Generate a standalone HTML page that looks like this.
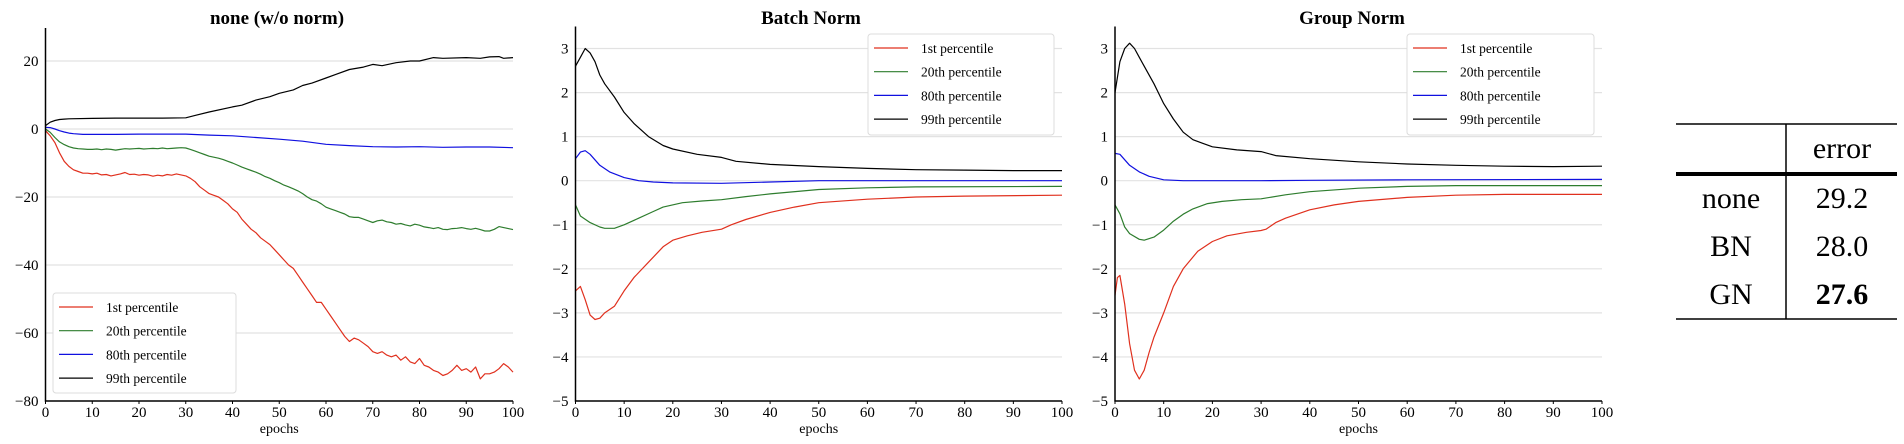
<!DOCTYPE html>
<html><head><meta charset="utf-8"><style>
html,body{margin:0;padding:0;background:#fff;width:1904px;height:444px;overflow:hidden}
svg{position:absolute;left:0;top:0}
text{font-family:"Liberation Serif",serif}
</style></head><body>
<svg id="s" width="1904" height="444"></svg>
<script>
// ---- Data: none (w/o norm) ----
const noneRedX=[0,1,2,3,4,5,6,7,8,9,10,11,12,13,14,15,16,17,18,19,20,21,22,23,24,25,26,27,28,29,30,31,32,33,34,35,36,37,38,39,40,41,42,43,44,45,46,47,48,49,50,51,52,53,54,55,56,57,58,59,60,61,62,63,64,65,66,67,68,69,70,71,72,73,74,75,76,77,78,79,80,81,82,83,84,85,86,87,88,89,90,91,92,93,94,95,96,97,98,99,100];
const noneRed=[-0.5,-2,-4,-7,-9.5,-11,-12,-12.5,-13,-13,-13.2,-13,-13.5,-13.4,-13.8,-13.5,-13.2,-12.8,-13.4,-13.3,-13.6,-13.4,-13.5,-13.9,-13.6,-13.8,-13.4,-13.6,-13.2,-13.5,-13.8,-14.5,-15.5,-17,-18,-19,-19.5,-20,-21,-22,-23.5,-24.5,-26.5,-28,-29.5,-30.5,-32,-33,-34,-35.5,-37,-38.5,-40,-41,-43,-45,-47,-49,-51,-51,-53,-55,-57,-59,-61,-62.5,-61.5,-62,-63,-64,-65.5,-66,-65.5,-66.5,-67,-66.5,-68,-67,-68.5,-69,-67.5,-69.5,-70,-71,-71.5,-72.5,-72,-71,-69.5,-71,-70.5,-71.5,-70,-73.5,-72,-72,-71.5,-70.5,-69,-70,-71.5];
const noneGreenX=noneRedX;
const noneGreen=[0,-1,-2.5,-3.8,-4.6,-5.2,-5.6,-5.8,-5.9,-6,-6,-5.9,-6.1,-5.9,-6,-6.2,-6,-5.8,-5.9,-5.8,-5.7,-5.9,-5.8,-5.7,-5.8,-5.6,-5.8,-5.7,-5.6,-5.5,-5.6,-6,-6.5,-7,-7.5,-8,-8.3,-8.6,-9,-9.5,-10,-10.6,-11.2,-11.7,-12.2,-12.7,-13.3,-14,-14.5,-15.2,-15.8,-16.5,-17,-17.6,-18.2,-19,-20,-20.8,-21.2,-22,-23,-23.5,-24,-24.5,-25,-25.8,-26,-26,-26.5,-27,-27.5,-27,-26.8,-27.3,-27.5,-28,-27.8,-28.2,-28.5,-28,-28.3,-28.8,-29,-29.3,-29,-29.5,-29.6,-29.3,-29.2,-29,-29.3,-29.5,-29.2,-29.6,-30,-30,-29.5,-28.7,-29,-29.3,-29.6];
const noneBlueX=[0,1,2,3,4,5,6,8,10,15,20,25,30,35,40,45,50,55,60,65,70,75,80,85,90,95,100];
const noneBlue=[0.5,0.4,0,-0.5,-0.9,-1.2,-1.4,-1.6,-1.6,-1.6,-1.5,-1.5,-1.5,-1.8,-2,-2.5,-3,-3.6,-4.5,-4.9,-5.2,-5.3,-5.2,-5.4,-5.3,-5.3,-5.5];
const noneBlackX=[0,1,2,3,4,5,10,15,20,25,30,32,35,40,42,45,48,50,53,55,57,60,62,65,68,70,72,75,78,80,83,85,90,93,95,97,98,100];
const noneBlack=[1,2,2.5,2.8,2.9,3,3.1,3.2,3.2,3.2,3.3,4,5,6.5,7,8.5,9.5,10.5,11.5,12.8,13.5,15,16,17.5,18.2,19,18.6,19.5,20,20,21,20.8,21,20.8,21.2,21.3,20.8,21];
const noneYTicks=[20,0,-20,-40,-60,-80];
// ---- Data: Batch Norm ----
const bnBlackX=[0,1,2,3,4,5,6,8,10,12,15,18,20,25,30,33,40,50,60,70,80,90,100];
const bnBlack=[2.6,2.8,3.0,2.9,2.7,2.4,2.2,1.9,1.55,1.3,1.0,0.8,0.72,0.6,0.53,0.44,0.37,0.32,0.28,0.25,0.24,0.23,0.23];
const bnBlueX=[0,1,2,3,5,7,10,13,16,20,30,40,50,100];
const bnBlue=[0.5,0.65,0.68,0.6,0.35,0.2,0.07,0,-0.03,-0.05,-0.06,-0.03,0,0];
const bnGreenX=[0,1,3,5,6,8,10,13,16,18,22,26,30,35,40,50,60,70,100];
const bnGreen=[-0.55,-0.8,-0.95,-1.05,-1.08,-1.08,-1.0,-0.85,-0.7,-0.6,-0.5,-0.46,-0.43,-0.36,-0.3,-0.2,-0.16,-0.14,-0.13];
const bnRedX=[0,1,2,3,4,5,6,8,10,12,15,18,20,23,26,30,32,35,40,45,50,60,70,80,100];
const bnRed=[-2.5,-2.4,-2.7,-3.05,-3.15,-3.12,-3.0,-2.85,-2.5,-2.2,-1.85,-1.5,-1.35,-1.25,-1.17,-1.1,-1.0,-0.88,-0.72,-0.6,-0.5,-0.42,-0.37,-0.35,-0.33];
// ---- Data: Group Norm ----
const gnBlackX=[0,1,2,3,4,5,6,8,10,12,14,16,18,20,25,30,33,40,50,60,70,80,90,100];
const gnBlack=[2.0,2.7,3.0,3.12,3.0,2.8,2.6,2.2,1.75,1.4,1.1,0.93,0.85,0.77,0.7,0.66,0.57,0.5,0.43,0.38,0.35,0.33,0.32,0.33];
const gnBlueX=[0,1,3,5,7,10,14,30,40,60,100];
const gnBlue=[0.62,0.6,0.35,0.2,0.1,0.02,0,0,0.01,0.02,0.03];
const gnGreenX=[0,1,2,3,5,6,8,10,12,14,16,19,22,26,30,35,40,50,60,70,100];
const gnGreen=[-0.55,-0.75,-1.05,-1.2,-1.33,-1.35,-1.28,-1.12,-0.92,-0.76,-0.64,-0.52,-0.47,-0.43,-0.41,-0.32,-0.25,-0.17,-0.13,-0.11,-0.11];
const gnRedX=[0,0.5,1,2,3,4,5,6,7,8,10,12,14,17,20,23,27,30,31,33,35,40,45,50,60,70,80,100];
const gnRed=[-2.6,-2.2,-2.15,-2.8,-3.7,-4.3,-4.5,-4.3,-3.9,-3.55,-3.0,-2.4,-2.0,-1.6,-1.38,-1.25,-1.17,-1.13,-1.1,-0.95,-0.85,-0.66,-0.55,-0.47,-0.38,-0.33,-0.31,-0.31];
const normYTicks=[3,2,1,0,-1,-2,-3,-4,-5];
const xTicks=[0,10,20,30,40,50,60,70,80,90,100];
const legendLabels=["1st percentile","20th percentile","80th percentile","99th percentile"];
const seriesColors=["#e0301e","#2e7d2e","#1010e0","#000000"];

const NS="http://www.w3.org/2000/svg";
const svg=document.getElementById('s');
function mk(tag,attrs,parent){const e=document.createElementNS(NS,tag);for(const k in attrs)e.setAttribute(k,attrs[k]);(parent||svg).appendChild(e);return e;}

function chart(o){
  const g=mk('g',{});
  
  
  const sx=v=>o.x0+(v-0)/100*(o.x1-o.x0);
  const sy=v=>o.yb+(v-o.ymin)/(o.ymax-o.ymin)*(o.yt-o.yb);
  o.yticks.forEach(t=>{
    if(t!==o.ymin){const l=mk('line',{x1:o.x0,x2:o.x1,y1:sy(t),y2:sy(t),stroke:'#e2e2e2','stroke-width':1.2},g);
    
    }
    const tx=mk('text',{x:o.x0-7,y:sy(t)+5,'text-anchor':'end','font-size':15},g);
    
    
    tx.textContent=(t<0?'\u2212'+(-t):t);
  });
  xTicks.forEach(t=>{
    mk('line',{x1:sx(t),x2:sx(t),y1:o.yb,y2:o.yb+3,stroke:'#000'},g);
    const tx=mk('text',{x:sx(t),y:o.yb+16,'text-anchor':'middle','font-size':15},g);
    
    
    tx.textContent=t;
  });
  o.series.forEach((s,i)=>{
    const pts=s[0].map((x,j)=>sx(x).toFixed(1)+','+sy(s[1][j]).toFixed(1)).join(' ');
    const p=mk('polyline',{points:pts,fill:'none',stroke:seriesColors[i],'stroke-width':1.2,'stroke-linejoin':'round'},g);
    
    
  });
  const ax=mk('path',{d:`M${o.x0},${o.yt} V${o.yb} H${o.x1}`,fill:'none',stroke:'#000','stroke-width':1.5},g);
  
  
  const ti=mk('text',{x:o.tx,y:24,'text-anchor':'middle','font-size':19,'font-weight':'bold'},g);
  
  
  ti.textContent=o.title;
  const xl=mk('text',{x:(o.x0+o.x1)/2,y:433,'text-anchor':'middle','font-size':14},g);
  
  
  xl.textContent='epochs';
  const L=o.leg;
  const lg=mk('g',{},g);
  
  
  mk('rect',{x:L.x,y:L.y,width:L.w,height:L.h,rx:3,fill:'#fff',stroke:'#dcdcdc','stroke-width':1},lg);
  legendLabels.forEach((lab,i)=>{
    const yy=L.y+14+i*23.7;
    mk('line',{x1:L.x+6,x2:L.x+40,y1:yy,y2:yy,stroke:seriesColors[i],'stroke-width':1.2},lg);
    const t=mk('text',{x:L.x+53,y:yy+5,'font-size':13.5},lg);
    
    
    t.textContent=lab;
  });
}
chart({name:'chart-none',title:'none (w/o norm)',x0:45.5,x1:513,yt:28,yb:401,ymin:-80,ymax:29.7,tx:277,yticks:noneYTicks,
  series:[[noneRedX,noneRed],[noneGreenX,noneGreen],[noneBlueX,noneBlue],[noneBlackX,noneBlack]],
  leg:{x:53,y:293,w:183,h:100}});
chart({name:'chart-batch-norm',title:'Batch Norm',x0:575.5,x1:1062,yt:26.5,yb:401,ymin:-5,ymax:3.5,tx:811,yticks:normYTicks,
  series:[[bnRedX,bnRed],[bnGreenX,bnGreen],[bnBlueX,bnBlue],[bnBlackX,bnBlack]],
  leg:{x:868,y:34,w:186,h:101}});
chart({name:'chart-group-norm',title:'Group Norm',x0:1115,x1:1602,yt:26.5,yb:401,ymin:-5,ymax:3.5,tx:1352,yticks:normYTicks,
  series:[[gnRedX,gnRed],[gnGreenX,gnGreen],[gnBlueX,gnBlue],[gnBlackX,gnBlack]],
  leg:{x:1407,y:34,w:187,h:101}});

// ---- Table ----
const tg=mk('g',{});


mk('line',{x1:1676,x2:1897,y1:124,y2:124,stroke:'#000','stroke-width':1.5},tg);
mk('line',{x1:1676,x2:1897,y1:174,y2:174,stroke:'#000','stroke-width':4},tg);
mk('line',{x1:1676,x2:1897,y1:319,y2:319,stroke:'#000','stroke-width':1.5},tg);
mk('line',{x1:1786,x2:1786,y1:124,y2:319,stroke:'#000','stroke-width':1.5},tg);
const rows=[["","error",148,false],["none","29.2",198,false],["BN","28.0",246,false],["GN","27.6",294,true]];
rows.forEach(r=>{
  const a=mk('text',{x:1731,y:r[2]+10,'text-anchor':'middle','font-size':30},tg);
  
  
  a.textContent=r[0];
  const b=mk('text',{x:1842,y:r[2]+10,'text-anchor':'middle','font-size':30,'font-weight':r[3]?'bold':'normal'},tg);
  
  
  b.textContent=r[1];
});
</script>
</body></html>
